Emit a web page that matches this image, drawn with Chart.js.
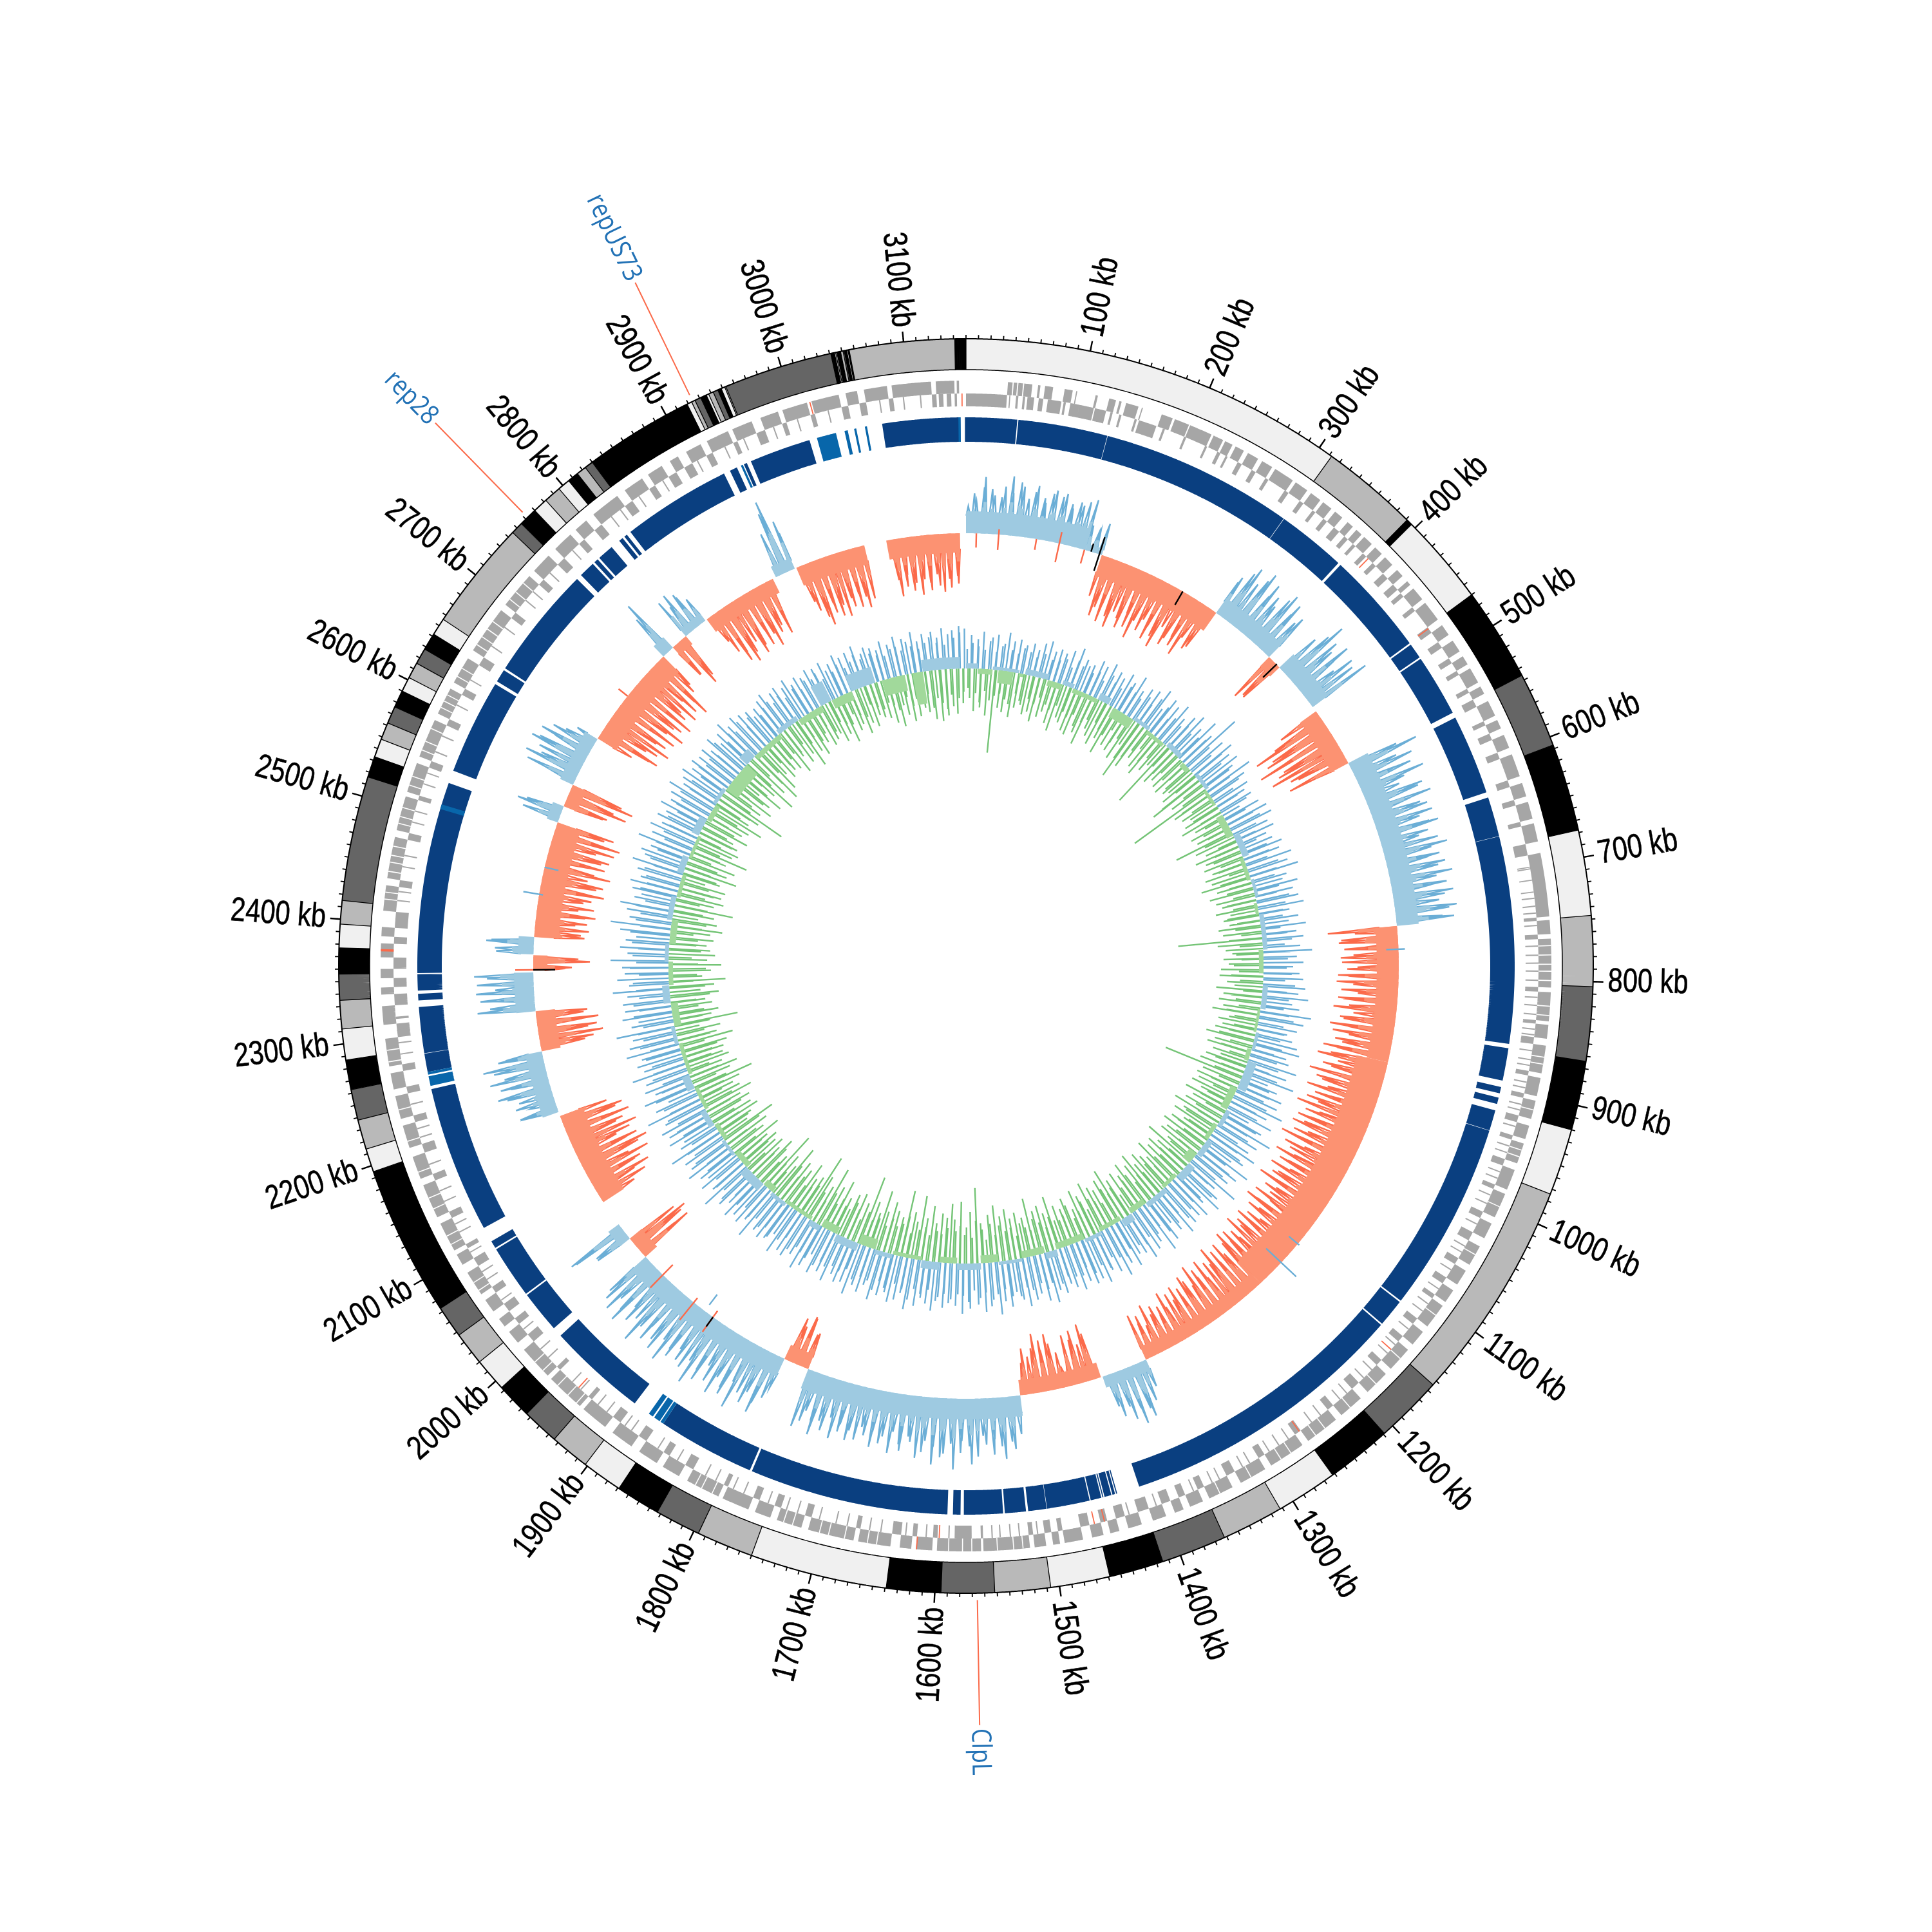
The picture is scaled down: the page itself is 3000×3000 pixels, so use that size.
<!DOCTYPE html>
<html><head><meta charset="utf-8"><title>Circular genome map</title>
<style>html,body{margin:0;padding:0;background:#fff}canvas{display:block}</style>
<script src="https://cdn.jsdelivr.net/npm/chart.js@4/dist/chart.umd.min.js"></script>
</head><body><canvas id="c" width="3000" height="3000"></canvas>
<script>
const GENOME_KB = 3150;
const tickKb = [100,200,300,400,500,600,700,800,900,1000,1100,1200,1300,1400,1500,1600,1700,1800,1900,2000,2100,2200,2300,2400,2500,2600,2700,2800,2900,3000,3100];
const tickLabels = ["100 kb","200 kb","300 kb","400 kb","500 kb","600 kb","700 kb","800 kb","900 kb","1000 kb","1100 kb","1200 kb","1300 kb","1400 kb","1500 kb","1600 kb","1700 kb","1800 kb","1900 kb","2000 kb","2100 kb","2200 kb","2300 kb","2400 kb","2500 kb","2600 kb","2700 kb","2800 kb","2900 kb","3000 kb","3100 kb"];
const markerNames = ["repUS73","rep28","ClpL"];
const markerKb = [2924,2762,1566];

// outer ideogram: each band ends at bandEnds[i]; shade 0 pale, 1 grey, 2 dark, 3 black
const bandEnds = [312,391,396,470,546,607,678,747,804,864,920,974,1154,1209,1262,1312,1362,1415,1459,1507,1552,1595,1639,1750,1796,1833,1869,1902,1934,1964,1993,2020,2047,2073,2195,2214,2238,2263,2287,2312,2335,2356,2377,2396,2415,2516,2533,2548,2562,2576,2590,2602,2615,2628,2642,2656,2745,2755,2770,2782,2796,2806,2815,2823,2830,2919,2923,2926,2931,2936,2938,2942,2946,2949,2952,2953,3041,3044,3045,3046,3049,3051,3052,3054,3055,3056,3141,3143,3143.4,3144.6,3145.2,3146,3146.3,3150];
const bandShades = [0,1,3,0,3,2,3,0,1,2,3,0,1,2,3,0,1,2,3,0,1,2,3,0,1,2,3,0,1,2,3,0,1,2,3,0,1,2,3,0,1,2,3,0,1,2,3,0,1,2,3,0,1,2,3,0,1,2,3,0,1,0,3,1,2,3,0,1,2,3,0,1,2,3,0,1,2,3,0,1,3,1,2,3,0,3,1,3,0,3,0,3,0,3];

// gene tracks (kb start, kb end)
const geneOuter = [[36,40],[41,44],[45,49],[50,57],[62,64],[68,75],[85,92],[95,96],[112,114],[124,130],[133,135],[139,150],[153,154],[171,181],[183,196],[197,217],[219,228],[230,237],[240,248],[252,262],[266,276],[279,297],[300,312],[316,326],[329,338],[342,350],[356,362],[366,372],[375,384],[388,396],[400,409],[415,422],[428,432],[436,448],[452,470],[476,486],[492,503],[508,516],[520,534],[538,545],[552,566],[570,578],[584,596],[602,622],[628,640],[645,660],[664,680],[690,745],[748,760],[764,806],[810,835],[838,850],[856,880],[884,900],[904,920],[926,938],[942,960],[966,984],[988,1010],[1016,1030],[1038,1056],[1062,1076],[1082,1094],[1098,1120],[1126,1140],[1146,1168],[1174,1196],[1204,1226],[1232,1262],[1268,1300],[1306,1330],[1338,1360],[1366,1378],[1384,1392],[1400,1412],[1422,1434],[1442,1450],[1456,1466],[1474,1490],[1494,1500],[1506,1516],[1520,1560],[1562,1600],[1604,1618],[1622,1632],[1640,1668],[1672,1712],[1718,1740],[1746,1760],[1766,1790],[1794,1824],[1832,1848],[1854,1872],[1880,1900],[1908,1932],[1936,1970],[1974,2004],[2012,2024],[2030,2038],[2046,2058],[2064,2086],[2094,2104],[2108,2134],[2140,2170],[2176,2196],[2204,2224],[2230,2250],[2256,2270],[2276,2300],[2312,2328],[2338,2344],[2352,2360],[2370,2382],[2388,2396],[2410,2432],[2438,2474],[2480,2510],[2514,2540],[2546,2580],[2586,2610],[2616,2640],[2648,2690],[2696,2728],[2734,2752],[2760,2778],[2784,2796],[2804,2830],[2838,2856],[2862,2876],[2884,2892],[2900,2914],[2920,2940],[2944,2962],[2970,2986],[2990,3012],[3016,3040],[3046,3056],[3062,3082],[3086,3120],[3124,3140],[3142,3144]];
const geneInner = [[0,36],[38,39],[44,46],[50,52],[54,60],[64,68],[72,84],[86,88],[92,100],[100,113],[114,124],[128,130],[136,138],[150,152],[154,170],[176,178],[196,198],[216,218],[228,231],[236,238],[248,252],[262,266],[276,279],[296,300],[312,316],[326,329],[338,342],[350,356],[362,366],[372,375],[384,388],[396,400],[409,415],[422,428],[432,436],[448,452],[470,476],[486,492],[503,508],[516,520],[534,538],[545,552],[566,570],[578,584],[596,602],[622,628],[640,645],[660,664],[680,690],[700,701],[722,723],[745,748],[760,764],[806,810],[835,838],[850,856],[880,884],[900,904],[920,926],[938,942],[960,966],[984,988],[1010,1016],[1030,1038],[1056,1062],[1076,1082],[1094,1098],[1120,1126],[1140,1146],[1168,1174],[1196,1204],[1226,1232],[1262,1268],[1300,1306],[1330,1338],[1360,1366],[1378,1384],[1392,1400],[1412,1422],[1434,1442],[1450,1456],[1466,1474],[1490,1494],[1500,1506],[1516,1520],[1560,1562],[1570,1585],[1600,1604],[1618,1622],[1632,1640],[1668,1672],[1712,1718],[1740,1746],[1760,1766],[1790,1794],[1824,1832],[1848,1854],[1872,1880],[1900,1908],[1932,1936],[1970,1974],[2004,2012],[2024,2030],[2038,2046],[2058,2064],[2086,2094],[2104,2108],[2134,2140],[2170,2176],[2196,2204],[2224,2230],[2250,2256],[2270,2276],[2300,2312],[2316,2318],[2328,2338],[2344,2352],[2360,2370],[2382,2388],[2396,2410],[2432,2438],[2474,2480],[2510,2514],[2540,2546],[2580,2586],[2610,2616],[2640,2648],[2690,2696],[2728,2734],[2752,2760],[2778,2784],[2796,2804],[2830,2838],[2856,2862],[2876,2884],[2892,2900],[2914,2920],[2940,2944],[2962,2970],[2986,2990],[3012,3016],[3040,3046],[3056,3062],[3082,3086],[3120,3124],[3126,3130],[3133,3137],[3140,3142]];
const geneThinInner = [702,712,728,735,741,752,770,778,785,792,800,815,822,830,843,848,862,870,875,890,895,910,915,930,948,954,972,978,994,1002,1022,1044,1050,1068,1088,1104,1112,1132,1150,1160,1180,1190,1210,1218,1240,1250,1275,1285,1295,1315,1322,1345,1352,1370,1405,1430,1470,1512,1528,1536,1545,1552,1590,1610,1628,1650,1660,1680,1690,1705,1725,1735,1752,1775,1785,1802,1812,1840,1860,1888,1895,1915,1925,1945,1955,1985,1995,2018,2050,2072,2080,2100,2120,2128,2150,2160,2185,2210,2218,2240,2285,2295,2306,2420,2428,2450,2460,2490,2500,2525,2535,2555,2570,2600,2625,2660,2680,2710,2720,2742,2770,2815,2825,2845,2870,2905,2932,2950,2978,3000,3028,3074,3095,3110];
const geneBreaks = [2420,2426,2444,2452,2458,2466,2486,2492,2500,2520,2528,2552,2560,2572,2592,2598,2604,2622,2630,2654,2662,2670,2678,2702,2710,2720,1526,1534,1548,1570,1578,1590,1652,1660,1680,1694,1702,1726,1734,1800,1810,1816,1940,1950,1962,1980,1990,2068,2076,2114,2122,2148,2158,2182,2210,2238,2280,2290,770,778,786,792,800,822,830,866,872,912,948,954,1000,1046,1108,1156,1186,1216,1244,1254,1280,1290,1320,1350];
const geneRedOuter = [[2375,2377],[1617,1618],[3014,3015]];
const geneRedInner = [[3146,3147],[390,391],[471,472],[1155,1156],[1263,1264],[1461,1462],[1452,1453],[1598,1599],[1947,1948]];

// solid ring
const ringDark = [[0,47],[48,130.6],[131,309.6],[310,374],[376.5,472.2],[473.8,488],[489.5,547],[552,626],[631,667.7],[668,859],[863,893],[899,905],[909,915],[921,940],[940.4,1116.5],[1118,1143.5],[1145,1414],[1435,1436],[1437,1439.5],[1440.5,1447],[1448,1449],[1450,1460],[1461,1500.6],[1501,1518],[1520,1539.5],[1541,1577],[1580,1587],[1592,1776],[1778,1868],[1900,1992],[2001,2040],[2041.5,2090.5],[2092,2099],[2113,2249],[2265,2282],[2282.4,2325],[2331,2337],[2340,2355],[2356,2533],[2545,2633],[2636,2648],[2650,2755],[2760,2775],[2777,2781],[2783,2798],[2807,2811],[2813,2816],[2820,2921],[2927,2934],[2941,2944],[2948,3005],[3073,3145],[3149,3150]];
const ringLight = [[1868,1871],[1872,1878],[1879.5,1884],[2252,2261],[2262.5,2265],[2508,2512.5],[2938,2940],[3012,3030],[3038,3041],[3047,3049],[3057,3059],[3143,3145]];

// histogram zones: start, end, kind, solid fill depth
const zoneStart = [0,140,160,309,389,406,472,543,741,900,1200,1360,1416,1512,1762,1792,1993,2021,2073,2190,2263,2310,2357,2376,2396,2532,2552,2579,2640,2762,2777,2797,2828,2922,2948,3057];
const zoneEnd   = [140,160,309,389,406,466,543,741,900,1200,1360,1414,1512,1762,1792,1993,2021,2042,2185,2263,2310,2355,2375,2396,2532,2552,2579,2639,2762,2777,2797,2826,2918,2946,3031,3143];
const zoneKind  = ["b","b","r","b","r","b","r","b","r","r","r","b","r","b","r","b","r","b","r","b","r","b","r","b","r","b","r","b","r","b","r","b","r","b","r","r"];
const zoneFill  = [34,10,34,28,20,30,30,34,34,50,22,18,24,32,24,30,24,20,38,26,30,30,22,24,38,18,22,22,34,22,16,14,24,18,30,30];

// outer histogram spike sizes, one per 5 kb, 20 per row = 100 kb
const outerSpikes = [
42,62,50,72,88,70,60,58,75,92,66,84,78,60,72,82,65,58,74,80,
72,78,64,58,70,66,74,80,40,32,36,50,66,95,80,100,72,88,104,76,
84,98,70,92,106,76,88,68,96,74,86,102,64,90,78,70,84,94,62,76,
70,58,68,84,96,74,88,102,70,92,78,64,86,98,72,90,66,78,80,70,
72,30,70,88,112,90,76,98,70,60,92,86,104,58,0,70,88,124,100,112,
86,130,94,105,120,92,80,100,60,80,112,72,96,64,88,104,70,58,92,84,
100,66,78,88,92,70,82,96,76,60,88,100,74,84,66,90,78,98,72,86,
62,94,80,70,96,84,72,90,108,66,88,92,56,84,70,90,88,64,80,94,
78,96,70,88,62,92,84,74,98,66,86,80,100,72,94,68,88,76,104,82,
90,110,76,98,84,116,72,102,92,80,112,70,96,106,86,118,78,100,88,108,
94,112,82,104,90,120,76,108,96,84,114,88,102,78,110,92,100,86,116,80,
98,84,106,76,94,112,82,100,70,92,104,78,96,86,108,74,90,98,80,102,
86,72,94,66,88,100,74,82,60,92,70,84,96,64,78,88,58,74,82,62,
76,58,84,66,52,72,60,80,48,68,56,74,44,64,86,72,92,66,80,58,
70,52,36,50,74,90,60,84,70,80,40,30,56,72,88,64,80,92,70,58,
72,50,30,60,82,70,96,76,64,88,72,58,90,102,74,66,84,110,70,86,
92,76,104,68,86,96,72,64,88,78,60,94,70,82,66,90,74,62,84,72,
88,66,78,92,60,84,70,96,74,62,80,92,58,55,78,80,60,72,50,70,
84,100,72,92,80,110,68,96,86,74,104,90,66,98,82,112,76,94,88,70,
92,80,108,74,100,86,70,96,82,112,78,90,66,104,84,72,98,88,76,94,
70,90,100,84,60,60,90,98,72,0,0,0,0,0,0,60,84,70,96,78,
88,106,74,96,112,82,100,70,94,108,78,90,104,72,86,98,76,92,50,60,
40,62,54,70,84,60,76,90,66,80,96,70,58,70,84,100,78,92,70,96,
74,80,90,70,58,84,90,60,88,72,92,50,60,88,70,58,60,74,66,78,
72,84,62,80,76,92,64,88,70,82,100,74,86,96,70,104,78,66,92,84,
96,72,100,84,106,78,92,60,72,58,64,70,98,76,104,84,50,82,90,66,
74,92,80,60,84,70,50,36,60,86,100,74,92,108,80,96,70,104,84,112,
88,100,76,110,92,80,104,70,96,84,108,72,60,70,94,60,60,84,72,66,
50,70,62,56,44,60,48,70,92,78,100,86,72,96,84,64,90,76,98,80,
70,88,60,50,0,70,100,118,80,60,60,76,90,104,72,88,96,80,100,74,
88,70,92,78,96,84,60,0,0,0,0,0,64,90,76,58,84,72,92,68,
74,86,62,80,90,70,84,66,78,0];

// inner histograms, one per 5 kb
const innerBlueSpikes = [
30,52,40,46,35,58,30,44,50,28,55,38,42,60,34,48,30,52,40,45,
36,50,30,42,54,38,60,32,46,52,35,48,40,56,30,44,64,38,50,42,
46,34,58,40,52,30,62,44,36,54,48,32,60,42,50,38,66,46,34,56,
44,60,36,52,70,40,48,64,34,58,42,68,50,38,62,46,72,40,56,44,
78,50,60,102,46,66,40,74,54,62,44,70,56,48,80,42,64,52,36,60,
50,38,56,46,30,60,36,68,44,52,70,40,58,34,64,48,30,54,42,66,
42,58,36,74,50,64,44,78,38,56,48,70,40,60,34,52,66,44,72,38,
48,36,60,44,70,30,54,40,64,46,34,58,76,42,52,38,62,46,36,56,
44,62,34,50,66,38,56,72,42,48,60,36,80,46,54,70,40,62,48,44,
58,40,68,46,74,36,56,62,44,78,50,38,66,54,82,42,60,48,72,52,
46,70,56,84,44,62,50,76,40,66,58,88,48,54,72,42,64,80,50,60,
68,50,86,46,60,74,54,66,48,90,56,44,70,62,82,50,58,76,46,68,
52,72,60,44,80,56,66,48,74,58,42,84,50,62,70,46,78,54,64,48,
60,76,46,66,54,82,50,70,44,62,58,78,48,68,56,72,42,64,52,74,
50,66,58,46,70,54,62,80,48,56,74,44,60,68,52,76,46,64,58,50,
56,72,44,62,82,50,58,68,46,76,54,64,42,70,60,50,78,48,66,56,
62,48,70,54,60,76,44,66,58,52,72,46,64,80,50,56,68,44,74,60,
54,68,46,62,78,50,58,72,48,64,56,82,44,66,52,70,60,48,76,54,
66,50,60,74,46,56,70,52,80,48,62,58,72,44,68,54,78,50,60,64,
50,70,56,64,48,84,54,60,72,46,66,52,76,58,44,70,62,50,86,56,
62,48,74,56,66,50,80,44,68,58,72,52,60,88,46,64,54,76,50,70,
56,78,48,66,60,90,52,58,70,46,64,82,50,60,74,44,68,56,86,52,
64,50,72,56,62,84,46,60,76,52,68,58,92,48,66,54,78,60,50,72,
58,74,48,66,88,52,62,56,80,46,68,60,72,50,90,56,64,48,76,58,
68,52,62,78,48,94,56,66,50,72,60,84,46,64,54,70,58,76,50,62,
54,70,60,48,82,56,66,74,50,62,58,86,46,68,52,76,60,48,72,56,
62,46,76,54,64,50,70,58,80,48,60,66,52,74,44,62,56,70,48,64,
50,68,56,44,72,60,52,66,46,76,54,62,48,70,58,42,64,52,60,46,
56,42,62,48,68,52,44,60,50,64,40,56,66,46,52,60,38,54,48,62,
44,58,50,36,62,46,54,40,64,48,56,38,60,44,52,66,42,50,58,46,
54,40,48,60,36,52,44,62,46,38,56,50,42,64,48,36,58,44,52,60,
42,50,64,38,54,60,48,66,56,62];
const innerGreenSpikes = [
30,46,66,38,52,60,34,72,48,129,40,58,36,64,44,50,70,32,54,42,
48,62,36,56,70,42,30,60,50,38,66,44,76,34,52,58,40,68,46,72,
38,54,64,44,80,36,50,60,34,70,42,56,78,46,60,32,64,50,38,72,
44,66,97,58,74,40,52,30,62,48,70,34,56,42,111,38,64,46,54,36,
60,42,63,34,48,56,48,64,40,72,90,36,60,44,138,52,66,38,58,46,
44,60,36,70,50,34,62,42,56,38,96,48,66,30,52,72,40,58,46,64,
38,54,44,68,30,60,48,79,36,56,42,70,34,62,46,54,38,66,44,50,
56,36,48,66,40,60,32,52,131,70,36,58,48,42,62,34,54,46,66,38,
50,68,36,56,44,72,30,60,48,40,66,34,58,52,74,38,46,62,36,54,
64,42,56,76,36,60,48,70,32,58,44,66,50,38,72,46,127,62,34,68,
44,62,36,70,52,40,74,48,58,34,66,46,80,38,60,54,72,42,50,68,
56,40,76,48,64,36,70,52,44,84,38,60,50,72,42,66,46,78,54,36,
62,48,72,40,58,80,44,66,36,54,76,50,60,42,70,34,64,52,86,46,
58,74,38,62,46,70,54,82,40,56,66,44,78,50,36,60,72,48,58,42,
66,44,84,52,60,38,74,48,68,56,40,90,46,62,54,72,36,64,50,80,
46,70,56,88,42,60,74,36,52,62,117,66,40,80,56,44,96,58,50,68,
92,54,70,44,76,48,60,86,40,66,52,100,46,58,72,38,64,104,50,60,
44,68,54,80,40,62,94,48,56,72,42,110,52,64,36,76,50,58,70,44,
60,46,84,54,42,70,56,96,38,62,48,74,106,52,66,44,58,80,40,64,
50,72,44,60,90,54,38,68,48,100,56,42,64,78,46,58,70,36,62,52,
70,46,58,84,42,62,50,74,38,66,92,48,54,60,76,44,68,40,56,72,
42,60,82,50,66,38,58,72,46,96,54,40,64,78,48,56,36,70,62,44,
66,48,58,74,40,86,52,62,44,70,38,56,100,46,60,72,50,42,64,54,
40,62,76,48,56,70,38,88,52,44,66,58,82,46,60,36,72,50,64,42,
58,44,68,36,62,80,48,54,70,40,64,46,92,52,38,60,74,44,56,68,
46,72,38,60,54,84,42,66,50,76,36,58,48,90,44,62,70,40,56,64,
54,42,74,50,60,36,68,46,86,60,44,58,72,112,52,66,48,80,38,60,
70,46,84,56,40,64,96,50,72,38,60,90,44,78,54,36,66,48,58,42,
62,38,74,50,44,66,34,56,80,42,60,36,70,48,54,40,64,32,58,46,
52,68,36,60,44,76,48,34,62,54,40,72,46,58,30,66,50,38,56,44,
60,36,70,42,52,78,46,62,34,74,50,40,68,48,56,64,36,58,76,44,
80,52,62,72,40,58,70,46,54,36];
// solid fills of the inner histograms: start, end, depth
const innerBlueFill = [[0,20,8],[45,90,5],[100,140,9],[165,185,7],[230,250,11],[300,330,6],[370,400,8],[440,470,6],[560,600,10],[640,670,5],[700,760,7],[820,860,8],[900,930,5],[950,1000,14],[1040,1070,7],[1100,1130,9],[1150,1180,12],[1210,1250,8],[1280,1300,12],[1340,1370,6],[1420,1440,10],[1480,1520,5],[1550,1590,10],[1620,1650,12],[1700,1730,7],[1760,1800,12],[1830,1850,9],[1900,1930,6],[1950,1990,14],[2020,2050,5],[2080,2110,9],[2150,2175,12],[2230,2260,6],[2300,2330,11],[2370,2400,6],[2440,2480,8],[2520,2550,10],[2590,2620,12],[2650,2680,6],[2735,2755,16],[2810,2850,8],[2895,2915,34],[2952,2995,26],[3077,3140,18]];
const innerGreenFill = [[20,45,8],[55,80,20],[90,98,5],[140,165,9],[185,230,7],[260,300,16],[330,365,6],[410,425,8],[470,500,5],[520,560,11],[600,640,6],[680,700,5],[760,800,7],[860,900,4],[930,950,7],[1000,1040,11],[1070,1100,7],[1130,1150,14],[1180,1210,6],[1250,1280,9],[1300,1340,7],[1370,1420,10],[1440,1480,11],[1520,1550,12],[1590,1620,9],[1650,1700,6],[1730,1760,16],[1800,1830,12],[1850,1900,6],[1930,1950,10],[1990,2020,9],[2050,2080,7],[2110,2150,6],[2175,2230,6],[2260,2300,11],[2330,2370,7],[2400,2440,10],[2480,2520,6],[2550,2590,5],[2620,2650,8],[2680,2735,22],[2755,2810,8],[2850,2895,10],[2915,2952,14],[3006,3046,25],[3059,3077,50]];

// odd spikes on the outer histogram: kb, radius from, radius to
const strayRed = [[12,672,650],[38,680,648],[82,672,655],[109,690,642],[139,672,650],[1964,700,650],[1916,707,663],[1888,700,660],[2700,672,690],[2358,672,700]];
const strayBlue = [[1166,640,704],[1137,654,675],[768,653,682],[2446,697,666],[2478,672,650],[1900,640,660]];
const strayBlack = [[147,672,685],[157,700,645],[263,672,648],[401,673,643],[2358,672,638],[1888,672,690]];

const PALETTE = {pale:"#f0f0f0",grey:"#b9b9b9",dark:"#656565",black:"#000000",gene:"#a6a6a6",ring:"#0a3f80",ringLt:"#0866aa",
  bFill:"#9ecae1",bLine:"#6baed6",rFill:"#fc9272",rLine:"#fb6a4a",gFill:"#a1d99b",gLine:"#74c476",label:"#2171b5"};
const SHADES = [PALETTE.pale,PALETTE.grey,PALETTE.dark,PALETTE.black];
const BIN_NUDGE = [0,1.6,-1.1,2,-1.8,0.6,-1.4,1.1,-0.5,1.9,-2,0.9,-0.9];

const R = {ideoOut:974,ideoIn:926,gOutA:909,gMid:889,gInB:869,ringOut:852,ringIn:814,hist:672,inner:462};
const GAP = {x:NaN,y:NaN};
const polar = (kb,r)=>{const a=kb/GENOME_KB*2*Math.PI;return {x:r*Math.sin(a),y:r*Math.cos(a)};};
const arc = (s,e,r)=>{const p=[];const n=Math.max(1,Math.ceil(e-s));for(let i=0;i<=n;i++)p.push(polar(s+(e-s)*i/n,r));p.push(GAP);return p;};
const radial = (kb,a,b)=>[polar(kb,a),polar(kb,b),GAP];
const layers = [];
// borderDash keeps Chart.js on its exact path routine (no same-pixel merging of points)
const layer = (pts,color,width,join)=>layers.push({data:pts,borderColor:color,borderWidth:width,borderDash:[1e6,0],showLine:true,pointRadius:0,spanGaps:false,tension:0,fill:false,borderCapStyle:"butt",borderJoinStyle:join||"bevel",clip:false});
const bandArcs = (list,r,width,color)=>layer(list.flatMap(([s,e])=>arc(s,e,r)),color,width);

const zoneAt = kb=>{for(let i=0;i<zoneStart.length;i++) if(kb>=zoneStart[i]&&kb<=zoneEnd[i]) return i; return -1;};

// outer histogram: a peak at each bin falling back to the zone's solid fill; light fill rises to about half of each peak
const zigB=[],zigR=[],wedgeB=[],wedgeR=[];let lastZone=-2;
outerSpikes.forEach((v,i)=>{const kb=i*5+2.5+BIN_NUDGE[i%BIN_NUDGE.length];const z=zoneAt(kb);
  if(z!==lastZone&&lastZone>=0){(zoneKind[lastZone]==="b"?zigB:zigR).push(GAP);}
  lastZone=z;if(z<0||!v)return;
  const up=zoneKind[z]==="b",arr=up?zigB:zigR,s=up?1:-1,base=Math.min(zoneFill[z]*0.8,v);
  arr.push(polar(Math.max(kb-2.2,zoneStart[z]),R.hist+s*base),polar(kb,R.hist+s*v),polar(Math.min(kb+2.2,zoneEnd[z]),R.hist+s*base));
  (up?wedgeB:wedgeR).push(...radial(Math.min(Math.max(kb,zoneStart[z]+2),zoneEnd[z]-2),R.hist,R.hist+s*Math.max(zoneFill[z],0.56*v)));});
layer(zigB,PALETTE.bLine,2.4,"miter"); layer(zigR,PALETTE.rLine,2.4,"miter");
layer(wedgeB,PALETTE.bFill,5); layer(wedgeR,PALETTE.rFill,5);
zoneStart.forEach((s,i)=>{const up=zoneKind[i]==="b";const d=zoneFill[i];
  layer(arc(s,zoneEnd[i],R.hist+(up?d/2:-d/2)),up?PALETTE.bFill:PALETTE.rFill,d);});
layer(strayRed.flatMap(([k,a,b])=>radial(k,a,b)),PALETTE.rLine,2.4);
layer(strayBlue.flatMap(([k,a,b])=>radial(k,a,b)),PALETTE.bLine,2.4);
layer(strayBlack.flatMap(([k,a,b])=>radial(k,a,b)),PALETTE.black,2.4);

// inner histograms
layer(innerBlueSpikes.flatMap((v,i)=>radial(i*5+2+BIN_NUDGE[i%BIN_NUDGE.length],R.inner,R.inner+v)),PALETTE.bLine,2.4);
layer(innerGreenSpikes.flatMap((v,i)=>radial(i*5+3+BIN_NUDGE[(i+5)%BIN_NUDGE.length],R.inner,R.inner-v)),PALETTE.gLine,2.4);
innerBlueFill.forEach(([s,e,d])=>layer(arc(s,e,R.inner+d/2),PALETTE.bFill,d));
innerGreenFill.forEach(([s,e,d])=>layer(arc(s,e,R.inner-d/2),PALETTE.gFill,d));

// genes
bandArcs(geneOuter,(R.gOutA+R.gMid)/2,R.gOutA-R.gMid,PALETTE.gene);
bandArcs(geneInner,(R.gMid+R.gInB)/2,R.gMid-R.gInB,PALETTE.gene);
layer(geneThinInner.flatMap(k=>radial(k,R.gInB,R.gMid)),PALETTE.gene,2);
layer(geneBreaks.flatMap(k=>radial(k,R.gMid,R.gOutA)),"#ffffff",1.6);
bandArcs(geneRedOuter,(R.gOutA+R.gMid)/2,R.gOutA-R.gMid,PALETTE.rLine);
bandArcs(geneRedInner,(R.gMid+R.gInB)/2,R.gMid-R.gInB,PALETTE.rLine);

// solid ring
bandArcs(ringDark,(R.ringOut+R.ringIn)/2,R.ringOut-R.ringIn,PALETTE.ring);
bandArcs(ringLight,(R.ringOut+R.ringIn)/2,R.ringOut-R.ringIn,PALETTE.ringLt);

// ideogram
const rMid=(R.ideoOut+R.ideoIn)/2,rW=R.ideoOut-R.ideoIn;
[0,1,2,3].forEach(sh=>{const list=[];bandEnds.forEach((e,i)=>{if(bandShades[i]===sh)list.push([i?bandEnds[i-1]:0,e]);});bandArcs(list,rMid,rW,SHADES[sh]);});
layer(bandEnds.flatMap(e=>radial(e,R.ideoIn,R.ideoOut)),PALETTE.black,1.3);
layer(arc(0,GENOME_KB,R.ideoOut),PALETTE.black,2);
layer(arc(0,GENOME_KB,R.ideoIn),PALETTE.black,1.5);

// ticks
const minor=[];for(let k=0;k<GENOME_KB;k+=10)minor.push(...radial(k,R.ideoOut,R.ideoOut+6));
layer(minor,PALETTE.black,1.8);
layer(tickKb.flatMap(k=>radial(k,R.ideoOut,R.ideoOut+16)),PALETTE.black,2.4);
layer(markerKb.flatMap(k=>radial(k,985,1179)),PALETTE.rLine,2);

const textPlugin={id:"circularText",afterDraw(chart){
  const c=chart.ctx,sx=chart.scales.x,sy=chart.scales.y;
  const put=(kb,r,txt,font,color,squeeze,stroke)=>{const p=polar(kb,r),deg=kb/GENOME_KB*360;
    c.save();c.translate(sx.getPixelForValue(p.x),sy.getPixelForValue(p.y));
    const right=deg<180;c.rotate((right?deg-90:deg+90)*Math.PI/180);c.scale(squeeze,1);
    c.font=font;c.fillStyle=color;c.textBaseline="middle";c.textAlign=right?"left":"right";c.fillText(txt,0,0);
    if(stroke){c.strokeStyle=color;c.lineWidth=stroke;c.strokeText(txt,0,0);}c.restore();};
  tickKb.forEach((k,i)=>put(k,997,tickLabels[i],'52px "Liberation Sans",sans-serif',"#000",0.8,0.6));
  markerKb.forEach((k,i)=>put(k,1184,markerNames[i],'42px "Open Sans",sans-serif',PALETTE.label,0.86,0));
}};

new Chart(document.getElementById("c"),{type:"scatter",
  data:{datasets:layers.reverse()},
  plugins:[textPlugin],
  options:{responsive:false,animation:false,devicePixelRatio:1,events:[],
    layout:{padding:0},
    plugins:{legend:{display:false},tooltip:{enabled:false},title:{display:false}},
    scales:{x:{type:"linear",min:-1500,max:1500,display:false},y:{type:"linear",min:-1500,max:1500,display:false}}}});
</script></body></html>
